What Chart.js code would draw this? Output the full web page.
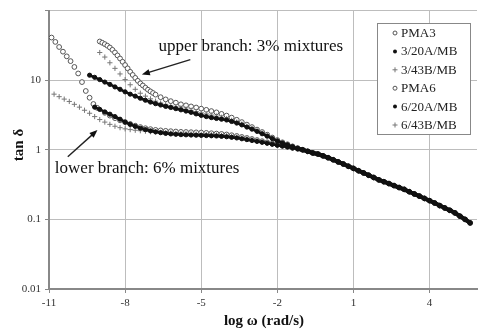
<!DOCTYPE html>
<html><head><meta charset="utf-8">
<script src="https://cdn.jsdelivr.net/npm/chart.js@4.4.0/dist/chart.umd.min.js"></script>
<style>html,body{margin:0;padding:0;background:#fff;}canvas{display:block;}</style>
</head><body>
<canvas id="c" width="482" height="332"></canvas>
<script>
// log ω grid (rad/s) before the curves merge
const logW = [-11.0,-10.8,-10.6,-10.4,-10.2,-10.0,-9.8,-9.6,-9.4,-9.2,-9.0,-8.8,-8.6,-8.4,-8.2,-8.0,-7.8,-7.6,-7.4,-7.2,-7.0,-6.8,-6.6,-6.4,-6.2,-6.0,-5.8,-5.6,-5.4,-5.2,-5.0,-4.8,-4.6,-4.4,-4.2,-4.0,-3.8,-3.6,-3.4,-3.2,-3.0,-2.8,-2.6,-2.4,-2.2,-2.0,-1.8,-1.6,-1.4,-1.2];
// log ω where all six curves coincide
const tailW = [-1.0,-0.8,-0.6,-0.4,-0.2,0.0,0.2,0.4,0.6,0.8,1.0,1.2,1.4,1.6,1.8,2.0,2.2,2.4,2.6,2.8,3.0,3.2,3.4,3.6,3.8,4.0,4.2,4.4,4.6,4.8,5.0,5.2,5.4,5.6];
const tailTan = [1.0,0.95,0.9,0.87,0.82,0.77,0.72,0.67,0.625,0.58,0.54,0.5,0.465,0.431,0.4,0.37,0.348,0.327,0.306,0.287,0.27,0.25,0.232,0.216,0.2,0.186,0.172,0.158,0.146,0.135,0.124,0.111,0.1,0.089];

const pma3 = [null,null,null,null,null,null,null,null,null,null,
  36,33,29.5,25,20.5,16.5,13.2,10.8,9.0,7.8,6.9,6.2,5.7,5.3,5.0,4.75,4.5,4.35,4.2,4.05,3.9,3.75,3.6,3.45,3.28,3.1,2.9,2.7,2.5,2.3,2.12,1.95,1.8,1.65,1.5,1.38,1.28,1.2,1.12,1.06];
// extra PMA3 readings on the steep part
const pma3ExtraW = [-8.9,-8.7,-8.5,-8.3,-8.1,-7.9,-7.7,-7.5,-7.3,-7.1,-6.9];
const pma3Extra  = [34.5,31.3,27.3,22.7,18.4,14.8,11.9,9.8,8.4,7.3,6.55];
const s3_20A = [null,null,null,null,null,null,null,null,
  11.8,11.0,10.2,9.4,8.7,8.0,7.4,6.8,6.3,5.9,5.5,5.15,4.85,4.6,4.4,4.2,4.05,3.9,3.75,3.6,3.45,3.28,3.12,3.0,2.9,2.82,2.75,2.68,2.55,2.42,2.28,2.12,1.98,1.84,1.7,1.57,1.45,1.34,1.25,1.18,1.11,1.05];
const s3_43B = [null,null,null,null,null,null,null,null,null,null,
  25,21.5,17.8,14.8,12.3,10.2,8.6,7.4,6.5,5.9,5.4,5.0,4.7,4.5,4.3,4.15,4.0,3.85,3.7,3.55,3.4,3.28,3.16,3.05,2.93,2.8,2.65,2.5,2.34,2.18,2.03,1.88,1.74,1.6,1.47,1.36,1.26,1.19,1.12,1.06];
const pma6 = [null,null,null,null,null,null,null,null,null,null,null,
  3.4,3.1,2.85,2.65,2.5,2.35,2.22,2.12,2.04,1.98,1.93,1.9,1.87,1.85,1.83,1.81,1.8,1.79,1.78,1.77,1.75,1.73,1.71,1.69,1.66,1.62,1.58,1.53,1.48,1.43,1.38,1.33,1.28,1.23,1.19,1.15,1.11,1.07,1.04];
// PMA6 readings on its steep low-frequency part
const pma6SteepW = [-10.9,-10.75,-10.6,-10.45,-10.3,-10.15,-10.0,-9.85,-9.7,-9.55,-9.4,-9.25,-9.1];
const pma6Steep  = [41,35.5,30,25.7,22,18.8,15.5,12.5,9.4,7.0,5.6,4.55,4.0];
const s6_20A = [null,null,null,null,null,null,null,null,null,
  4.1,3.8,3.5,3.25,3.0,2.75,2.5,2.32,2.17,2.04,1.95,1.87,1.81,1.76,1.72,1.69,1.67,1.65,1.64,1.63,1.62,1.61,1.6,1.59,1.58,1.56,1.54,1.51,1.48,1.44,1.4,1.36,1.32,1.28,1.24,1.2,1.16,1.13,1.1,1.06,1.03];
const s6_43B = [null,
  6.3,5.8,5.35,4.95,4.5,4.1,3.7,3.35,3.0,2.72,2.5,2.32,2.18,2.08,2.0,1.95,1.91,1.88,1.85,1.82,1.8,1.78,1.76,1.74,1.72,1.71,1.7,1.69,1.68,1.67,1.66,1.65,1.63,1.61,1.59,1.56,1.52,1.48,1.44,1.4,1.35,1.3,1.26,1.21,1.17,1.14,1.1,1.07,1.04];

const seriesNames = ['PMA3','3/20A/MB','3/43B/MB','PMA6','6/20A/MB','6/43B/MB'];
const xTicks = [-11,-8,-5,-2,1,4];
const yTicks = [0.01,0.1,1,10,100];

function pts(vals, exW, ex){
  const out=[];
  logW.forEach((x,i)=>{ if(vals[i]!=null) out.push({x:x,y:vals[i]}); });
  if(exW) exW.forEach((x,i)=>out.push({x:x,y:ex[i]}));
  tailW.forEach((x,i)=>out.push({x:x,y:tailTan[i]}));
  out.sort((a,b)=>a.x-b.x);
  return out;
}
const OPEN={pointStyle:'circle',pointRadius:2.4,pointBackgroundColor:'#fff',pointBorderColor:'#555',pointBorderWidth:1,showLine:false,order:2};
const FILL={pointStyle:'circle',pointRadius:2.1,pointBackgroundColor:'#111',pointBorderColor:'#111',pointBorderWidth:1,showLine:true,borderColor:'#111',borderWidth:2.6,order:0,
  segment:{borderWidth:(c)=>c.p0.parsed.x>=-1.3?4:2.6}};
const PLUS={pointStyle:'cross',pointRadius:2.6,pointBorderColor:'#777',pointBorderWidth:1,showLine:false,order:1};
const styles=[OPEN,FILL,PLUS,OPEN,FILL,PLUS];
const allData=[pts(pma3,pma3ExtraW,pma3Extra),pts(s3_20A),pts(s3_43B),pts(pma6,pma6SteepW,pma6Steep),pts(s6_20A),pts(s6_43B)];

const datasets = allData.map((d,i)=>Object.assign({label:seriesNames[i],data:d},styles[i]));

const SERIF='"Liberation Serif", "Times New Roman", serif';

function arrow(ctx,x1,y1,x2,y2){
  const a=Math.atan2(y2-y1,x2-x1), L=8, W=3.2;
  ctx.beginPath(); ctx.moveTo(x1,y1); ctx.lineTo(x2-Math.cos(a)*L*0.8,y2-Math.sin(a)*L*0.8); ctx.stroke();
  ctx.beginPath();
  ctx.moveTo(x2,y2);
  ctx.lineTo(x2-Math.cos(a)*L+Math.sin(a)*W, y2-Math.sin(a)*L-Math.cos(a)*W);
  ctx.lineTo(x2-Math.cos(a)*L-Math.sin(a)*W, y2-Math.sin(a)*L+Math.cos(a)*W);
  ctx.closePath(); ctx.fill();
}

const overlay={
  id:'overlay',
  afterDatasetsDraw(chart){
    const ctx=chart.ctx, xs=chart.scales.x, ys=chart.scales.y;
    ctx.save();
    // annotations
    ctx.fillStyle='#111'; ctx.strokeStyle='#222'; ctx.lineWidth=1.4;
    ctx.font='17px '+SERIF; ctx.textBaseline='alphabetic'; ctx.textAlign='left';
    ctx.fillText('upper branch: 3% mixtures', xs.getPixelForValue(-6.68), ys.getPixelForValue(26.4));
    ctx.fillText('lower branch: 6% mixtures', xs.getPixelForValue(-10.77), ys.getPixelForValue(0.471));
    arrow(ctx, xs.getPixelForValue(-5.43), ys.getPixelForValue(19.7), xs.getPixelForValue(-7.34), ys.getPixelForValue(12.05));
    arrow(ctx, xs.getPixelForValue(-10.26), ys.getPixelForValue(0.795), xs.getPixelForValue(-9.09), ys.getPixelForValue(1.92));
    // legend box
    const bx=377.5, by=23.5, bw=93, bh=111;
    ctx.fillStyle='#fff'; ctx.fillRect(bx,by,bw,bh);
    ctx.strokeStyle='#888'; ctx.lineWidth=1; ctx.strokeRect(bx,by,bw,bh);
    ctx.font='13px '+SERIF; ctx.textBaseline='middle';
    seriesNames.forEach((n,i)=>{
      const cy=33+i*18.4, mx=395;
      const st=styles[i];
      ctx.lineWidth=1;
      if(st===OPEN){ ctx.beginPath(); ctx.arc(mx,cy,2,0,Math.PI*2); ctx.fillStyle='#fff'; ctx.fill(); ctx.strokeStyle='#555'; ctx.stroke(); }
      else if(st===FILL){ ctx.beginPath(); ctx.arc(mx,cy,2,0,Math.PI*2); ctx.fillStyle='#111'; ctx.fill(); }
      else { ctx.strokeStyle='#777'; ctx.beginPath(); ctx.moveTo(mx-2.5,cy); ctx.lineTo(mx+2.5,cy); ctx.moveTo(mx,cy-2.5); ctx.lineTo(mx,cy+2.5); ctx.stroke(); }
      ctx.fillStyle='#222'; ctx.fillText(n, 401, cy+0.5);
    });
    // axis titles
    ctx.fillStyle='#111'; ctx.font='bold 15px '+SERIF; ctx.textAlign='center'; ctx.textBaseline='middle';
    ctx.fillText('log ω (rad/s)', 264, 321);
    ctx.translate(19,145); ctx.rotate(-Math.PI/2);
    ctx.fillText('tan δ', 0, 0);
    ctx.restore();
  }
};

new Chart(document.getElementById('c'),{
  type:'scatter',
  data:{datasets:datasets},
  options:{
    responsive:false, animation:false, devicePixelRatio:1,
    layout:{padding:{top:8,right:0,left:0,bottom:0}},
    plugins:{legend:{display:false},tooltip:{enabled:false}},
    scales:{
      x:{type:'linear',min:-11,max:5.87,
        afterBuildTicks:(ax)=>{ax.ticks=xTicks.map(v=>({value:v}));},
        afterFit:(ax)=>{ax.height=43;},
        ticks:{font:{family:SERIF,size:11},color:'#333',padding:4,maxRotation:0,callback:(v)=>String(v)},
        grid:{color:'#bdbdbd',lineWidth:1,tickLength:4,tickColor:'#888'},
        border:{color:'#888',width:2}
      },
      y:{type:'logarithmic',min:0.01,max:100,
        afterBuildTicks:(ax)=>{ax.ticks=yTicks.map(v=>({value:v}));},
        afterFit:(ax)=>{ax.width=49;},
        ticks:{font:{family:SERIF,size:11},color:'#333',padding:4,callback:(v)=>v===100?'':String(v)},
        grid:{color:'#bdbdbd',lineWidth:1,tickLength:4,tickColor:'#888'},
        border:{color:'#888',width:2}
      }
    }
  },
  plugins:[overlay]
});
</script>
</body></html>
